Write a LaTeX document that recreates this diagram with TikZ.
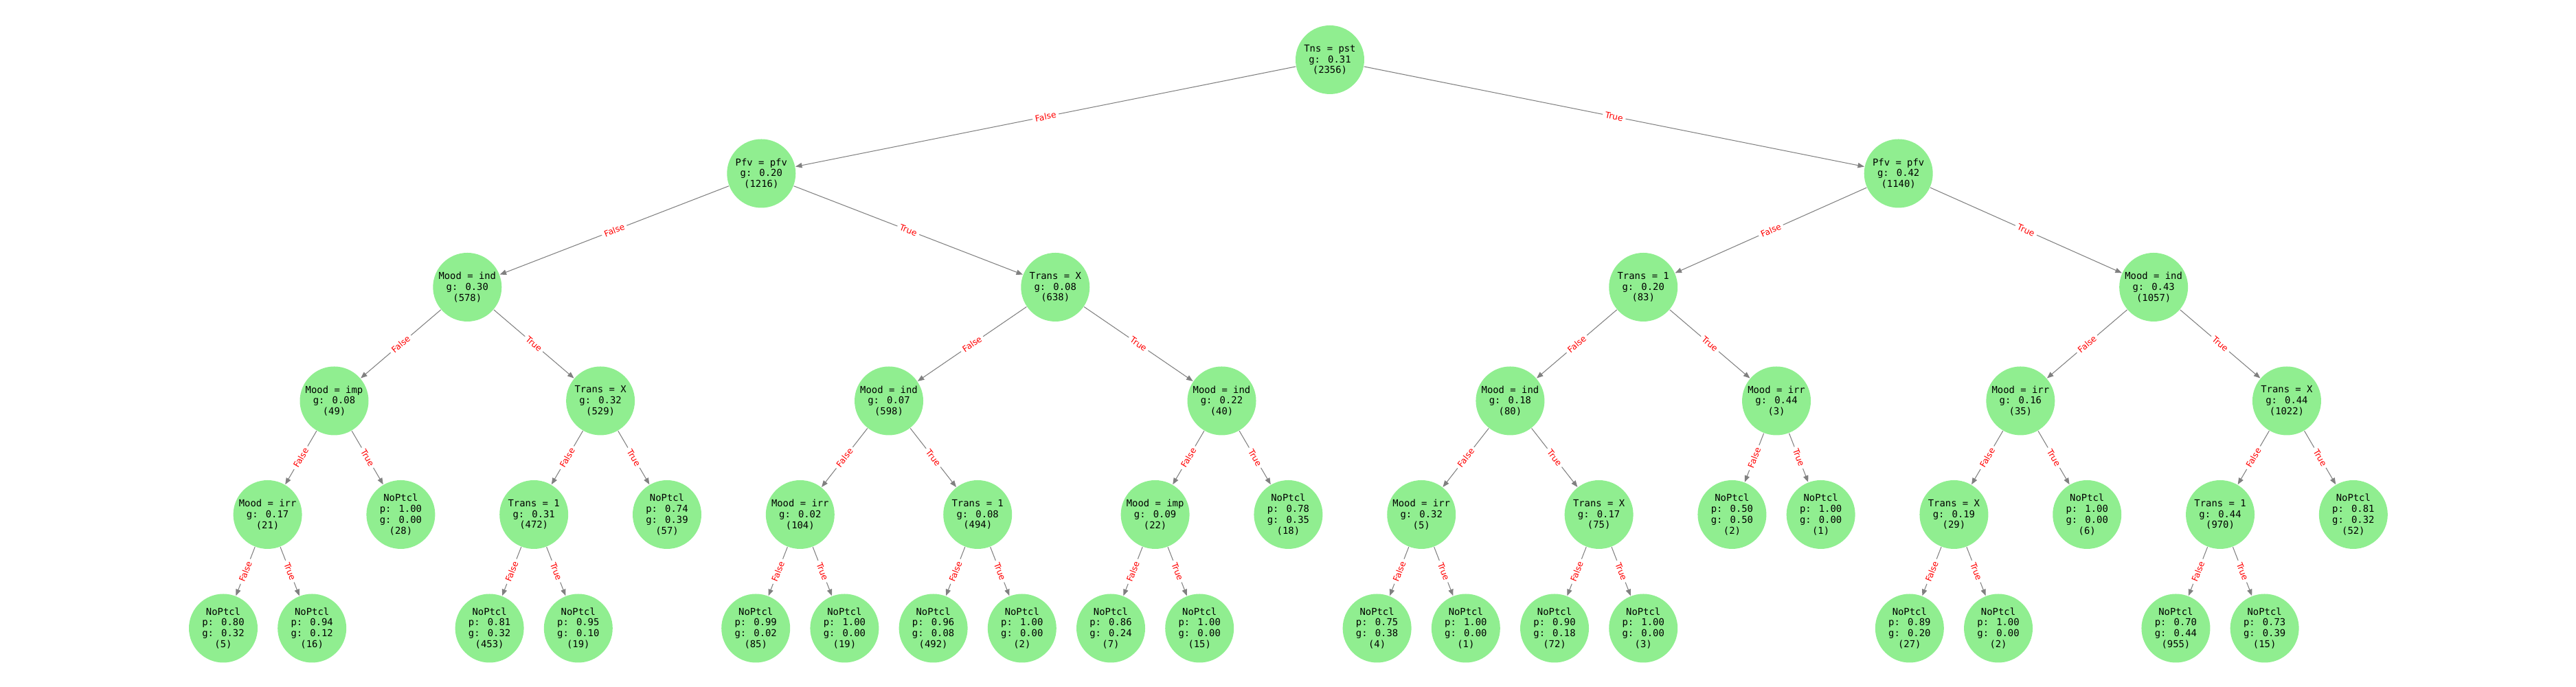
\documentclass[tikz,border=0pt]{standalone}
\usepackage{fontspec}
\newfontfamily\monofont{DejaVu Sans Mono}
\newfontfamily\labelfont{DejaVu Sans}
\usetikzlibrary{arrows.meta}
\definecolor{nodegreen}{HTML}{90EE90}
\definecolor{edgegray}{HTML}{808080}
\definecolor{lblred}{HTML}{FF0000}
\tikzset{
  tnode/.style={circle, fill=nodegreen, draw=none, minimum size=1cm, inner sep=0pt,
    align=center, font=\monofont\fontsize{3.95pt}{4.5pt}\selectfont},
  edge/.style={draw=edgegray, line width=0.3pt, -{Triangle[length=2.7pt,width=2.1pt]}, shorten >=0pt},
  lbl/.style={sloped, fill=white, inner sep=1.1pt, text=lblred, font=\labelfont\fontsize{3.5pt}{4pt}\selectfont}
}
\begin{document}
\begin{tikzpicture}
\useasboundingbox (0,0) rectangle (37.5,10);
\begin{scope}[x=1.292cm, xshift=3.25cm]
% level 0
\node[tnode] (r) at (12.46875,9.13) {Tns = pst\\g: 0.31\\(2356)};
% level 1
\node[tnode] (rF) at (6.0625,7.475) {Pfv = pfv\\g: 0.20\\(1216)};
\node[tnode] (rT) at (18.875,7.475) {Pfv = pfv\\g: 0.42\\(1140)};
% level 2
\node[tnode] (rFF) at (2.75,5.82) {Mood = ind\\g: 0.30\\(578)};
\node[tnode] (rFT) at (9.375,5.82) {Trans = X\\g: 0.08\\(638)};
\node[tnode] (rTF) at (16,5.82) {Trans = 1\\g: 0.20\\(83)};
\node[tnode] (rTT) at (21.75,5.82) {Mood = ind\\g: 0.43\\(1057)};
% level 3
\node[tnode] (rFFF) at (1.25,4.165) {Mood = imp\\g: 0.08\\(49)};
\node[tnode] (rFFT) at (4.25,4.165) {Trans = X\\g: 0.32\\(529)};
\node[tnode] (rFTF) at (7.5,4.165) {Mood = ind\\g: 0.07\\(598)};
\node[tnode] (rFTT) at (11.25,4.165) {Mood = ind\\g: 0.22\\(40)};
\node[tnode] (rTFF) at (14.5,4.165) {Mood = ind\\g: 0.18\\(80)};
\node[tnode] (rTFT) at (17.5,4.165) {Mood = irr\\g: 0.44\\(3)};
\node[tnode] (rTTF) at (20.25,4.165) {Mood = irr\\g: 0.16\\(35)};
\node[tnode] (rTTT) at (23.25,4.165) {Trans = X\\g: 0.44\\(1022)};
% level 4
\node[tnode] (rFFFF) at (0.5,2.51) {Mood = irr\\g: 0.17\\(21)};
\node[tnode] (rFFFT) at (2,2.51) {NoPtcl\\p: 1.00\\g: 0.00\\(28)};
\node[tnode] (rFFTF) at (3.5,2.51) {Trans = 1\\g: 0.31\\(472)};
\node[tnode] (rFFTT) at (5,2.51) {NoPtcl\\p: 0.74\\g: 0.39\\(57)};
\node[tnode] (rFTFF) at (6.5,2.51) {Mood = irr\\g: 0.02\\(104)};
\node[tnode] (rFTFT) at (8.5,2.51) {Trans = 1\\g: 0.08\\(494)};
\node[tnode] (rFTTF) at (10.5,2.51) {Mood = imp\\g: 0.09\\(22)};
\node[tnode] (rFTTT) at (12,2.51) {NoPtcl\\p: 0.78\\g: 0.35\\(18)};
\node[tnode] (rTFFF) at (13.5,2.51) {Mood = irr\\g: 0.32\\(5)};
\node[tnode] (rTFFT) at (15.5,2.51) {Trans = X\\g: 0.17\\(75)};
\node[tnode] (rTFTF) at (17,2.51) {NoPtcl\\p: 0.50\\g: 0.50\\(2)};
\node[tnode] (rTFTT) at (18,2.51) {NoPtcl\\p: 1.00\\g: 0.00\\(1)};
\node[tnode] (rTTFF) at (19.5,2.51) {Trans = X\\g: 0.19\\(29)};
\node[tnode] (rTTFT) at (21,2.51) {NoPtcl\\p: 1.00\\g: 0.00\\(6)};
\node[tnode] (rTTTF) at (22.5,2.51) {Trans = 1\\g: 0.44\\(970)};
\node[tnode] (rTTTT) at (24,2.51) {NoPtcl\\p: 0.81\\g: 0.32\\(52)};
% level 5
\node[tnode] (rFFFFF) at (0,0.855) {NoPtcl\\p: 0.80\\g: 0.32\\(5)};
\node[tnode] (rFFFFT) at (1,0.855) {NoPtcl\\p: 0.94\\g: 0.12\\(16)};
\node[tnode] (rFFTFF) at (3,0.855) {NoPtcl\\p: 0.81\\g: 0.32\\(453)};
\node[tnode] (rFFTFT) at (4,0.855) {NoPtcl\\p: 0.95\\g: 0.10\\(19)};
\node[tnode] (rFTFFF) at (6,0.855) {NoPtcl\\p: 0.99\\g: 0.02\\(85)};
\node[tnode] (rFTFFT) at (7,0.855) {NoPtcl\\p: 1.00\\g: 0.00\\(19)};
\node[tnode] (rFTFTF) at (8,0.855) {NoPtcl\\p: 0.96\\g: 0.08\\(492)};
\node[tnode] (rFTFTT) at (9,0.855) {NoPtcl\\p: 1.00\\g: 0.00\\(2)};
\node[tnode] (rFTTFF) at (10,0.855) {NoPtcl\\p: 0.86\\g: 0.24\\(7)};
\node[tnode] (rFTTFT) at (11,0.855) {NoPtcl\\p: 1.00\\g: 0.00\\(15)};
\node[tnode] (rTFFFF) at (13,0.855) {NoPtcl\\p: 0.75\\g: 0.38\\(4)};
\node[tnode] (rTFFFT) at (14,0.855) {NoPtcl\\p: 1.00\\g: 0.00\\(1)};
\node[tnode] (rTFFTF) at (15,0.855) {NoPtcl\\p: 0.90\\g: 0.18\\(72)};
\node[tnode] (rTFFTT) at (16,0.855) {NoPtcl\\p: 1.00\\g: 0.00\\(3)};
\node[tnode] (rTTFFF) at (19,0.855) {NoPtcl\\p: 0.89\\g: 0.20\\(27)};
\node[tnode] (rTTFFT) at (20,0.855) {NoPtcl\\p: 1.00\\g: 0.00\\(2)};
\node[tnode] (rTTTFF) at (22,0.855) {NoPtcl\\p: 0.70\\g: 0.44\\(955)};
\node[tnode] (rTTTFT) at (23,0.855) {NoPtcl\\p: 0.73\\g: 0.39\\(15)};
\end{scope}
% edges
\foreach \p in {r,rF,rT,rFF,rFT,rTF,rTT,rFFF,rFFT,rFTF,rFTT,rTFF,rTFT,rTTF,rTTT,rFFFF,rFFTF,rFTFF,rFTFT,rFTTF,rTFFF,rTFFT,rTTFF,rTTTF}{
  \draw[edge] (\p) -- node[lbl]{False} (\p F);
  \draw[edge] (\p) -- node[lbl]{True} (\p T);
}
\end{tikzpicture}
\end{document}
